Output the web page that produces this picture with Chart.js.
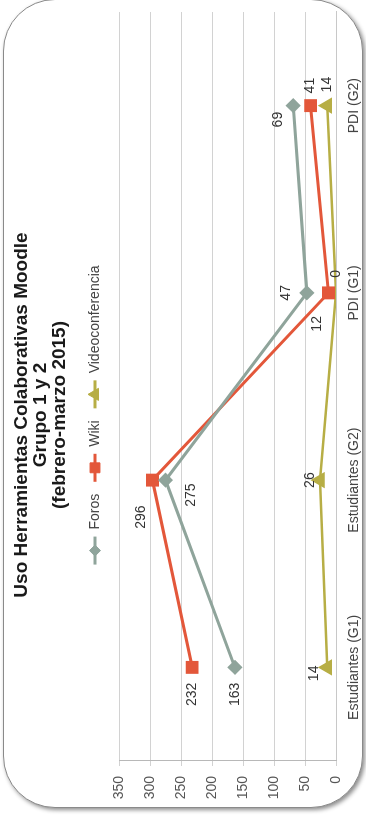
<!DOCTYPE html>
<html>
<head>
<meta charset="utf-8">
<script src="https://cdn.jsdelivr.net/npm/chart.js@4/dist/chart.umd.min.js"></script>
<style>
html,body{margin:0;padding:0;background:#fff;overflow:hidden;width:366px;height:818px;}
#frame{position:absolute;left:3px;top:-1px;width:360px;height:809px;box-sizing:border-box;border:1px solid #8a8a8a;border-radius:52px;box-shadow:2px 2px 4px rgba(0,0,0,0.45);background:#fff;}
#rot{position:absolute;left:0;top:0;width:818px;height:366px;transform-origin:0 0;transform:translate(0px,818px) rotate(-90deg);}
</style>
</head>
<body>
<div id="frame"></div>
<div id="rot"><canvas id="c" width="818" height="366"></canvas></div>
<script>
// ---- data ----
const categories = ['Estudiantes (G1)', 'Estudiantes (G2)', 'PDI (G1)', 'PDI (G2)'];
const seriesNames = ['Foros', 'Wiki', 'Videoconferencia'];
const forosValues = [163, 275, 47, 69];
const wikiValues = [232, 296, 12, 41];
const videoValues = [14, 26, 0, 14];
const valueTicks = [0, 50, 100, 150, 200, 250, 300, 350];
const titleLines = ['Uso Herramientas Colaborativas Moodle', 'Grupo 1 y 2', '(febrero-marzo 2015)'];

// ---- label placement (offsets from each point, px) ----
const forosLabelOffsets = [[-27, 0], [-15, 26], [0, -21], [-14, -15]];
const wikiLabelOffsets = [[-27, 0], [-37, -11], [-31, -11], [20, 0]];
const videoLabelOffsets = [[-6, -13], [0, -10], [19, 0], [21, 0]];

const FONT = '"Liberation Sans", Arial, Helvetica, sans-serif';
const colForos = '#8fa49b';
const colWiki = '#e3573a';
const colVideo = '#b7ae45';

const valueLabels = {
  id: 'valueLabels',
  afterDatasetsDraw(chart) {
    const ctx = chart.ctx;
    ctx.save();
    ctx.font = '14px ' + FONT;
    ctx.fillStyle = '#333';
    ctx.textAlign = 'center';
    ctx.textBaseline = 'middle';
    chart.data.datasets.forEach((ds, i) => {
      const meta = chart.getDatasetMeta(i);
      meta.data.forEach((pt, j) => {
        const off = ds.labelOffsets[j];
        ctx.fillText(String(ds.data[j]), pt.x + off[0], pt.y + off[1]);
      });
    });
    ctx.restore();
  }
};

const legendMarks = {
  id: 'legendMarks',
  afterDraw(chart) {
    const lg = chart.legend;
    if (!lg || !lg.legendHitBoxes) return;
    const ctx = chart.ctx;
    const bw = lg.options.labels.boxWidth;
    lg.legendHitBoxes.forEach((hb, i) => {
      const ds = chart.data.datasets[i];
      const cy = hb.top + hb.height / 2;
      ctx.save();
      ctx.strokeStyle = ds.borderColor;
      ctx.lineWidth = 3;
      ctx.beginPath();
      ctx.moveTo(hb.left, cy);
      ctx.lineTo(hb.left + bw, cy);
      ctx.stroke();
      ctx.fillStyle = ds.pointBackgroundColor;
      ctx.strokeStyle = ds.pointBorderColor;
      ctx.lineWidth = 1;
      Chart.helpers.drawPoint(ctx, {pointStyle: ds.pointStyle, radius: ds.pointRadius, borderWidth: 1, rotation: 0}, hb.left + bw / 2, cy);
      ctx.restore();
    });
  }
};

new Chart(document.getElementById('c'), {
  type: 'line',
  data: {
    labels: categories,
    datasets: [
      {label: seriesNames[0], data: forosValues, labelOffsets: forosLabelOffsets,
       borderColor: colForos, backgroundColor: colForos, pointBackgroundColor: colForos, pointBorderColor: colForos,
       borderWidth: 3, pointStyle: 'rectRot', pointRadius: 5.5, tension: 0},
      {label: seriesNames[1], data: wikiValues, labelOffsets: wikiLabelOffsets,
       borderColor: colWiki, backgroundColor: colWiki, pointBackgroundColor: colWiki, pointBorderColor: colWiki,
       borderWidth: 3, pointStyle: 'rect', pointRadius: 7, tension: 0},
      {label: seriesNames[2], data: videoValues, labelOffsets: videoLabelOffsets,
       borderColor: colVideo, backgroundColor: colVideo, pointBackgroundColor: colVideo, pointBorderColor: colVideo,
       borderWidth: 2.5, pointStyle: 'triangle', pointRadius: 7, tension: 0}
    ]
  },
  options: {
    responsive: false,
    animation: false,
    events: [],
    layout: {padding: {left: 0, right: 12, top: 0, bottom: 0}},
    plugins: {
      title: {
        display: true,
        text: titleLines,
        color: '#1a1a1a',
        font: {family: FONT, size: 19, weight: 'bold', lineHeight: 1},
        padding: {top: 12, bottom: 0}
      },
      legend: {
        display: true,
        position: 'top',
        labels: {
          color: '#444',
          font: {family: FONT, size: 14},
          boxWidth: 28,
          boxHeight: 28,
          padding: 12,
          generateLabels(chart) {
            return chart.data.datasets.map((ds, i) => ({
              text: ds.label,
              fillStyle: 'rgba(0,0,0,0)',
              strokeStyle: 'rgba(0,0,0,0)',
              lineWidth: 0,
              fontColor: '#444',
              datasetIndex: i,
              hidden: false
            }));
          }
        }
      },
      tooltip: {enabled: false}
    },
    scales: {
      x: {
        type: 'category',
        offset: true,
        grid: {display: false, drawTicks: false},
        border: {display: true, color: '#c8c8c8'},
        ticks: {color: '#444', font: {family: FONT, size: 14}, padding: 10, maxRotation: 0, autoSkip: false},
        afterFit(s) { s.height = 30; }
      },
      y: {
        min: 0,
        max: 350,
        grid: {color: '#d2d2d2', lineWidth: 1, tickLength: 5},
        border: {display: true, color: '#b8b8b8'},
        ticks: {color: '#555', font: {family: FONT, size: 14}, padding: 10},
        afterBuildTicks(s) { s.ticks = valueTicks.map(v => ({value: v})); },
        afterFit(s) { s.width = 57; }
      }
    }
  },
  plugins: [valueLabels, legendMarks]
});
</script>
</body>
</html>
